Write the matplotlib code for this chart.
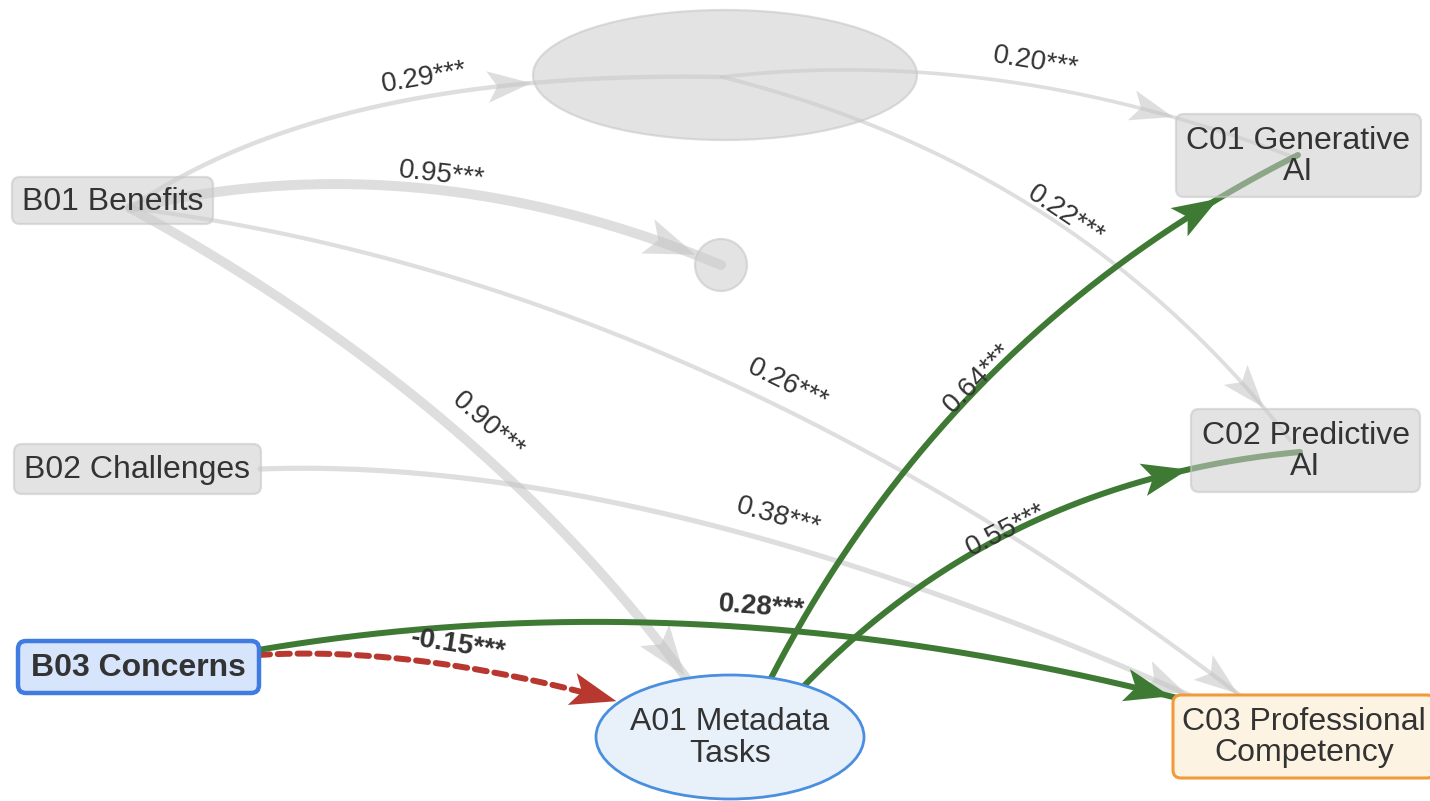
import numpy as np
import matplotlib.pyplot as plt
from matplotlib.patches import FancyBboxPatch, Ellipse, Polygon

plt.rcParams['font.family'] = ['Liberation Sans', 'DejaVu Sans']

# model variables
node_ids = ['B01', 'B02', 'B03', 'A01', 'C01', 'C02', 'C03', 'M1', 'M2']
node_labels = ['B01 Benefits', 'B02 Challenges', 'B03 Concerns',
               'A01 Metadata\nTasks', 'C01 Generative\nAI', 'C02 Predictive\nAI',
               'C03 Professional\nCompetency', '', '']

# structural paths
edge_from = ['B01', 'M1', 'M1', 'B01', 'B01', 'B01', 'B02', 'B03', 'B03', 'A01', 'A01']
edge_to = ['M1', 'C01', 'C02', 'M2', 'C03', 'A01', 'C03', 'A01', 'C03', 'C01', 'C02']
edge_beta = [0.29, 0.20, 0.22, 0.95, 0.26, 0.90, 0.38, -0.15, 0.28, 0.64, 0.55]
edge_sig = ['***'] * 11

focus = 'B03'

# layout in pixel space: shape, cx, cy, w, h
layout = {
    'B01': ('box', 112.5, 200.5, 201, 47),
    'B02': ('box', 137.5, 469, 247, 50),
    'B03': ('box', 138.5, 667, 241, 52),
    'A01': ('ellipse', 730, 737, 268, 124),
    'C01': ('box', 1298.5, 155.5, 245, 83),
    'C02': ('box', 1305.5, 450.5, 229, 83),
    'C03': ('box', 1304, 736.5, 262, 83),
    'M1': ('ellipse', 725, 75, 384, 130),
    'M2': ('ellipse', 721, 265, 52, 52),
}

node_style = {
    'B03': dict(fc='#d7e5fc', ec='#3f7be0', lw=3.2, weight='bold'),
    'A01': dict(fc='#e8f1fa', ec='#4a8ee0', lw=2.0, weight='normal'),
    'C03': dict(fc='#fdf3e2', ec='#f29a3a', lw=2.2, weight='normal'),
}
grey_node = dict(fc=(0.80, 0.80, 0.80, 0.55), ec=(0.78, 0.78, 0.78, 0.6), lw=1.6,
                 weight='normal')

# curve geometry (start, control, end) and label anchor per path
edge_curves = [
    ((130, 208), (330, 70), (720, 77)),
    ((722, 77), (1000, 45), (1293, 157)),
    ((722, 77), (1075, 165), (1290, 440)),
    ((130, 208), (420, 140), (721, 265)),
    ((130, 208), (700, 280), (1246, 700)),
    ((130, 208), (490, 405), (695, 690)),
    ((260, 469), (650, 455), (1200, 700)),
    ((258, 655), (420, 645), (630, 705)),
    ((258, 650), (700, 575), (1185, 700)),
    ((770, 680), (950, 330), (1298, 155)),
    ((800, 690), (1000, 480), (1300, 452)),
]
edge_label_xy = [(424, 78), (1036, 62), (1066, 215), (442, 175), (788, 385),
                 (488, 425), (778, 517), (458, 645), (762, 607), (978, 378),
                 (1006, 530)]


def bezier(p0, p1, p2, n=400):
    t = np.linspace(0, 1, n)[:, None]
    p0, p1, p2 = map(np.asarray, (p0, p1, p2))
    return (1 - t) ** 2 * p0 + 2 * (1 - t) * t * p1 + t ** 2 * p2


def inside(node, x, y):
    kind, cx, cy, w, h = layout[node]
    if kind == 'box':
        return abs(x - cx) <= w / 2 and abs(y - cy) <= h / 2
    return ((x - cx) / (w / 2)) ** 2 + ((y - cy) / (h / 2)) ** 2 <= 1


def px(v):
    return v * 72 / 100.0


fig = plt.figure(figsize=(14.3, 8.01), dpi=100)
ax = fig.add_axes([0, 0, 1, 1])
ax.set_xlim(0, 1430)
ax.set_ylim(801, 0)
ax.axis('off')

# downstream of the focus variable
reach = {focus}
for _ in range(3):
    for s, d in zip(edge_from, edge_to):
        if s in reach:
            reach.add(d)

for i in range(len(edge_beta)):
    s, d, b = edge_from[i], edge_to[i], edge_beta[i]
    pts = bezier(*edge_curves[i])
    hot = s in reach
    if hot:
        color = '#3f7a35' if b > 0 else '#b8382f'
        alpha = 1.0
        lw = 6.0
        z = 3
    else:
        color = '#c4c4c4'
        alpha = 0.55
        lw = 2.0 + 8.4 * abs(b)
        z = 1

    # arrow tip where the curve meets the target outline
    k = len(pts) - 1
    while k > 0 and inside(d, *pts[k]):
        k -= 1
    seg = np.r_[0, np.cumsum(np.hypot(*np.diff(pts[:k + 1], axis=0).T))]
    j = np.searchsorted(seg, seg[-1] - 3)
    tip = pts[j]
    direc = pts[j] - pts[max(j - 4, 0)]
    direc = direc / np.hypot(*direc)
    nrm = np.array([-direc[1], direc[0]])
    L = 38 + 1.3 * lw
    W = 0.72 * L
    base = tip - direc * L
    head = [tip, base + nrm * W / 2, tip - direc * L * 0.78, base - nrm * W / 2]

    if b < 0:
        jj = np.searchsorted(seg, seg[-1] - L * 0.8)
        ax.plot(pts[:jj, 0], pts[:jj, 1], color=color, lw=px(lw), alpha=alpha,
                ls=(0, (2.0, 1.3)), dash_capstyle='round', zorder=z)
    else:
        ax.plot(pts[:, 0], pts[:, 1], color=color, lw=px(lw), alpha=alpha,
                solid_capstyle='round', zorder=z)
    ax.add_patch(Polygon(head, closed=True, fc=color, ec='none', alpha=alpha, zorder=z))

    # label along the path
    lx, ly = edge_label_xy[i]
    m = np.argmin(np.hypot(pts[:, 0] - lx, pts[:, 1] - ly))
    dv = pts[min(m + 3, len(pts) - 1)] - pts[max(m - 3, 0)]
    ang = np.degrees(np.arctan2(-dv[1], dv[0]))
    if ang > 90:
        ang -= 180
    if ang < -90:
        ang += 180
    txt = f'{b:.2f}{edge_sig[i]}'
    ax.text(lx, ly, txt, fontsize=20, color='#333333', ha='center', va='center',
            rotation=ang, rotation_mode='anchor',
            fontweight='bold' if s == focus else 'normal', zorder=6)

# variables on top of the paths
for nid, lab in zip(node_ids, node_labels):
    kind, cx, cy, w, h = layout[nid]
    st = node_style.get(nid, grey_node)
    if kind == 'box':
        patch = FancyBboxPatch((cx - w / 2, cy - h / 2), w, h,
                               boxstyle='round,pad=0,rounding_size=8',
                               fc=st['fc'], ec=st['ec'], lw=st['lw'], zorder=4)
    else:
        patch = Ellipse((cx, cy), w, h, fc=st['fc'], ec=st['ec'], lw=st['lw'], zorder=4)
    ax.add_patch(patch)
    if lab:
        ax.text(cx, cy + 1, lab, fontsize=23, color='#333333', ha='center', va='center',
                linespacing=1.05, fontweight=st['weight'], zorder=5)

fig.savefig('out.png', dpi=100)
